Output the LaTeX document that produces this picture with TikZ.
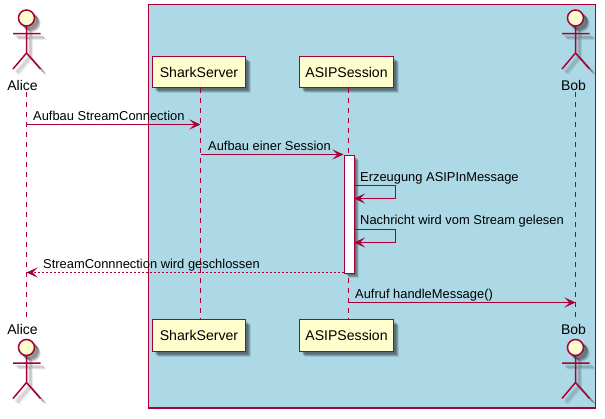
\documentclass[tikz,border=0pt]{standalone}
\usepackage{fontspec}
\setmainfont{Liberation Sans}
\usetikzlibrary{arrows.meta}
\definecolor{pline}{HTML}{A80036}
\definecolor{pfill}{HTML}{FEFECE}
\definecolor{pbox}{HTML}{ADD8E6}
\tikzset{
  x=1pt,y=-1pt,
  pstroke/.style={draw=pline,line width=1.5pt},
  participant/.style={pstroke,fill=pfill,minimum width=94pt,minimum height=32pt,inner sep=0pt,font=\fontsize{14.1}{15}\selectfont,text=black},
  caption/.style={inner sep=0pt,font=\fontsize{14}{15}\selectfont,text=black},
  msg/.style={inner sep=0pt,anchor=base west,font=\fontsize{12.9}{14}\selectfont,text=black},
  lifeline/.style={draw=pline,line width=1pt,dash pattern=on 5pt off 5pt},
  call/.style={draw=pline,line width=1.1pt,-{Stealth[length=11pt,width=10pt,inset=5pt]}},
  reply/.style={draw=pline,line width=1.1pt,dash pattern=on 2pt off 2pt,-{Stealth[length=11pt,width=10pt,inset=5pt,sep=0pt]}},
}
% actor figure: #1 x, #2 y of head centre
\newcommand{\actorshape}[3]{%
  \path[#3] (#1,#2) circle[radius=8];
  \path[#3,fill=none] (#1,#2+8) -- (#1,#2+35) (#1-13.5,#2+15.5) -- (#1+14,#2+15.5)
     (#1-13.5,#2+51) -- (#1,#2+35) -- (#1+14,#2+51);
}
\newcommand{\actorfig}[2]{%
  \foreach \d/\o in {2.5/.10,3.5/.14,4.5/.14,5.5/.08}{
    \begin{scope}[shift={(\d,\d)}]
      \actorshape{#1}{#2}{draw=black,fill=black,opacity=\o,line width=1.5pt}
    \end{scope}
  }
  \actorshape{#1}{#2}{pstroke,fill=pfill}
}
\newcommand{\boxshade}[4]{%
  \foreach \d/\o in {2.5/.14,3.5/.18,4.5/.18,5.5/.10}{
    \fill[black,opacity=\o] (#1+\d,#2+\d) rectangle (#3+\d,#4+\d);
  }
}
\begin{document}
\begin{tikzpicture}
\useasboundingbox (0,0) rectangle (605,418);
\fill[white] (0,0) rectangle (605,418);
\path[draw=pline,line width=1.2pt,fill=pbox] (148.5,4.5) rectangle (595.5,408);

% shadows of the boxes
\boxshade{152.5}{56.5}{245.5}{87.5}
\boxshade{299.5}{56.5}{393.5}{87.5}
\boxshade{152.5}{319.5}{245.5}{351.5}
\boxshade{299.5}{319.5}{393.5}{351.5}

% named ends of lifelines
\coordinate (aliceT) at (26.5,92);
\coordinate (aliceB) at (26.5,317);
\coordinate (bobT) at (575.5,92);
\coordinate (bobB) at (575.5,317);
\coordinate (sharkT) at (200.5,87.5);
\coordinate (sharkB) at (200.5,319.5);
\coordinate (asipT) at (348.5,87.5);
\coordinate (asipB) at (348.5,319.5);

\draw[lifeline] (aliceT) -- (aliceB);
\draw[lifeline] (bobT) -- (bobB);
\draw[lifeline] (sharkT) -- (sharkB);
\draw[lifeline] (asipT) -- (asipB);

% participants
\node[participant,minimum width=93pt,minimum height=31pt] (sharkTop) at (199,72) {SharkServer};
\node[participant,minimum width=94pt,minimum height=31pt] (asipTop) at (346.5,72) {ASIPSession};
\node[participant,minimum width=93pt,minimum height=32pt] (sharkBot) at (199,335.5) {SharkServer};
\node[participant,minimum width=94pt,minimum height=32pt] (asipBot) at (346.5,335.5) {ASIPSession};

% actors
\actorfig{26.5}{18}
\actorfig{575.5}{18}
\actorfig{26.5}{347.5}
\actorfig{575.5}{347.5}
\node[caption] (aliceTopL) at (22.5,85) {Alice};
\node[caption] (bobTopL) at (573.5,85) {Bob};
\node[caption] (aliceBotL) at (22.5,329) {Alice};
\node[caption] (bobBotL) at (573.5,329) {Bob};

% activation bar
\boxshade{343.5}{154.5}{353.5}{272.5}
\node[draw=pline,line width=1.2pt,fill=white,minimum width=10pt,minimum height=118pt,inner sep=0pt,anchor=north west] (act) at (343.5,154.5) {};

% message anchors
\coordinate (m1a) at (26.5,124.5);
\coordinate (m1b) at (200.5,124.5);
\coordinate (m2a) at (200.5,154.5);
\coordinate (m3a) at (353.5,185.5);
\coordinate (m3c) at (395.5,185.5);
\coordinate (m3d) at (395.5,198.5);
\coordinate (m3e) at (354,198.5);
\coordinate (m4a) at (353.5,229.5);
\coordinate (m4c) at (395.5,229.5);
\coordinate (m4d) at (395.5,242.5);
\coordinate (m4e) at (354,242.5);
\coordinate (m5a) at (343.5,272.5);
\coordinate (m5b) at (26.5,272.5);
\coordinate (m6a) at (348.5,302.5);
\coordinate (m6b) at (575.5,302.5);

\draw[call] (m1a) -- (m1b);
\draw[call] (m2a) -- (act.north west);
\draw[call] (m3a) -- (m3c) -- (m3d) -- (m3e);
\draw[call] (m4a) -- (m4c) -- (m4d) -- (m4e);
\draw[reply] (m5a) -- (m5b);
\draw[call] (m6a) -- (m6b);

\node[msg] (t1) at (33,120) {Aufbau StreamConnection};
\node[msg] (t2) at (208,150) {Aufbau einer Session};
\node[msg] (t3) at (360,181) {Erzeugung ASIPInMessage};
\node[msg] (t4) at (360,224) {Nachricht wird vom Stream gelesen};
\node[msg] (t5) at (43,268) {StreamConnnection wird geschlossen};
\node[msg] (t6) at (355,298) {Aufruf handleMessage()};
\end{tikzpicture}
\end{document}
